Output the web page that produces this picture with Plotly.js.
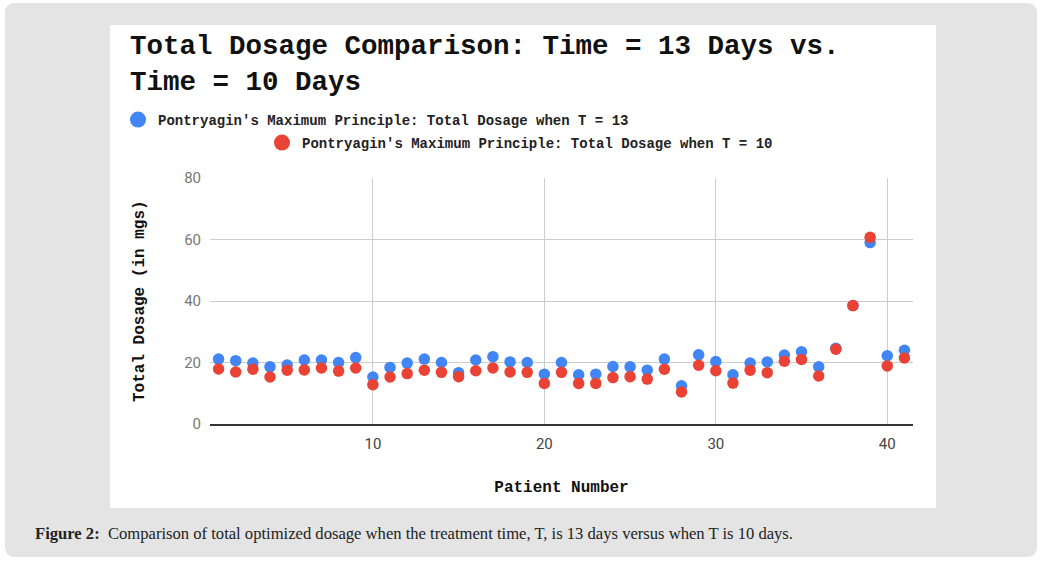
<!DOCTYPE html>
<html>
<head>
<meta charset="utf-8">
<script src="https://cdn.plot.ly/plotly-3.0.1.min.js"></script>
<style>
  html, body { margin: 0; padding: 0; background: #fff; width: 1040px; height: 561px; overflow: hidden; }
  #frame {
    position: absolute; left: 5px; top: 3px; width: 1032px; height: 554px;
    background: #e4e4e4; border-radius: 9px;
  }
  #chart {
    position: absolute; left: 110px; top: 25px; width: 826px; height: 483px; background: #fff;
  }
  #caption {
    position: absolute; left: 35px; top: 524px;
    font-family: "Liberation Serif", serif; font-size: 16.6px; color: #222;
  }
</style>
</head>
<body>
<div id="frame"></div>
<div id="chart"></div>
<div id="caption"><b>Figure 2:</b>&nbsp; Comparison of total optimized dosage when the treatment time, T, is 13 days versus when T is 10 days.</div>
<script>
// patient numbers 1..41
var patients = [1,2,3,4,5,6,7,8,9,10,11,12,13,14,15,16,17,18,19,20,21,22,23,24,25,26,27,28,29,30,31,32,33,34,35,36,37,38,39,40,41];

// total dosage (mg), T = 13 days
var dose13 = [21.1,20.6,19.8,18.6,19.2,20.8,20.8,20.0,21.6,15.3,18.4,19.8,21.1,20.0,16.7,20.8,21.9,20.2,20.0,16.2,20.0,16.0,16.2,18.7,18.6,17.5,21.1,12.4,22.5,20.3,16.0,19.8,20.2,22.4,23.5,18.6,24.6,38.5,59.0,22.2,24.0];

// total dosage (mg), T = 10 days
var dose10 = [17.9,16.9,17.8,15.3,17.5,17.6,18.2,17.2,18.2,12.8,15.3,16.4,17.5,16.8,15.4,17.3,18.2,16.9,16.8,13.2,16.8,13.2,13.2,15.1,15.4,14.6,17.8,10.4,19.1,17.3,13.3,17.5,16.7,20.4,21.0,15.6,24.3,38.5,60.7,18.9,21.5];

var name13 = "Pontryagin's Maximum Principle: Total Dosage when T = 13";
var name10 = "Pontryagin's Maximum Principle: Total Dosage when T = 10";

var blue = '#4285f4';
var red = '#ea4335';
var mono = '"Liberation Mono", "Courier New", monospace';

var data = [
    { x: patients, y: dose13, type: 'scatter', mode: 'markers', name: name13,
      marker: { color: blue, size: 11.5 }, showlegend: false },
    { x: patients, y: dose10, type: 'scatter', mode: 'markers', name: name10,
      marker: { color: red, size: 11.5 }, showlegend: false },
    // legend entries only (bigger dots like the original)
    { x: [null], y: [null], type: 'scatter', mode: 'markers', name: name13,
      marker: { color: blue, size: 16 }, legend: 'legend' },
    { x: [null], y: [null], type: 'scatter', mode: 'markers', name: name10,
      marker: { color: red, size: 16 }, legend: 'legend2' }
];

var legendFont = { family: mono, size: 14, color: '#222', weight: 'bold' };
var axisTitleFont = { family: mono, size: 16, color: '#111', weight: 'bold' };

var layout = {
    width: 826,
    height: 483,
    paper_bgcolor: '#ffffff',
    plot_bgcolor: '#ffffff',
    margin: { l: 100, r: 23, t: 153, b: 84, autoexpand: false },
    title: {
        text: 'Total Dosage Comparison: Time = 13 Days vs.<br>Time = 10 Days',
        font: { family: mono, size: 27.5, color: '#111', weight: 'bold' },
        xref: 'container', x: 20 / 826, xanchor: 'left',
        yref: 'container', y: 1 - 29 / 483, yanchor: 'top'
    },
    legend: {
        font: legendFont, bgcolor: 'rgba(0,0,0,0)',
        xref: 'container', x: 8 / 826, xanchor: 'left',
        yref: 'container', y: 1 - 95 / 483, yanchor: 'middle'
    },
    legend2: {
        font: legendFont, bgcolor: 'rgba(0,0,0,0)',
        xref: 'container', x: 152 / 826, xanchor: 'left',
        yref: 'container', y: 1 - 118 / 483, yanchor: 'middle'
    },
    xaxis: {
        range: [0.5, 41.5],
        tickvals: [10, 20, 30, 40],
        showgrid: true, gridcolor: '#cccccc', gridwidth: 1,
        zeroline: false,
        showline: true, linecolor: '#333333', linewidth: 2,
        ticks: '',
        ticklabelstandoff: 5,
        tickfont: { family: 'Roboto, Arial, sans-serif', size: 15, color: '#444' },
        title: { text: 'Patient Number', standoff: 29, font: axisTitleFont }
    },
    yaxis: {
        range: [0, 80],
        dtick: 20,
        showgrid: true, gridcolor: '#cccccc', gridwidth: 1,
        zeroline: false,
        ticks: '',
        ticklabelstandoff: 8,
        tickfont: { family: 'Roboto, Arial, sans-serif', size: 15, color: '#777' }
    },
    annotations: [{
        text: 'Total Dosage (in mgs)', textangle: -90, showarrow: false,
        xref: 'paper', x: 0, xanchor: 'center', xshift: -70,
        yref: 'paper', y: 0.5, yanchor: 'middle',
        font: axisTitleFont
    }]
};

Plotly.newPlot('chart', data, layout, { displayModeBar: false, staticPlot: true });
</script>
</body>
</html>
